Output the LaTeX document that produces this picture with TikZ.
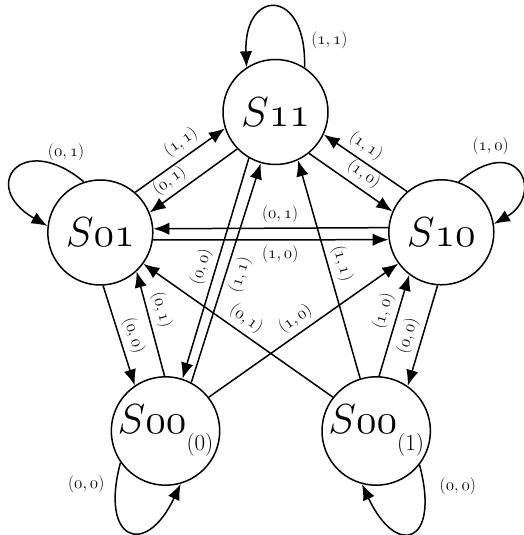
\RequirePackage{fix-cm}
\documentclass[tikz,border=0pt]{standalone}
\usetikzlibrary{arrows.meta}
\newcommand\lbtxt[2]{$(\mathnormal{#1},\mathnormal{#2})$}
\newcommand\stxt[1]{$S\mathnormal{#1}$}
\newcommand\sztxt[1]{$S\mathnormal{00}$\raisebox{-17pt}{\fontsize{23}{23}\selectfont(#1)}}
\begin{document}
\begin{tikzpicture}[x=1pt,y=1pt,
  state/.style={draw, circle, line width=1.5pt, minimum size=105pt, inner sep=0pt, font=\fontsize{42}{42}\selectfont},
  arr/.style={line width=1.5pt, -{Latex[length=16pt,width=12.5pt]}},
  lbl/.style={inner sep=5pt, sloped, font=\fontsize{17}{17}\selectfont},
  llbl/.style={inner sep=5pt, font=\fontsize{17}{17}\selectfont}]
\useasboundingbox (0,0) rectangle (523,535);
\node[state] (s11) at (275.5,423) {\stxt{11}};
\node[state] (s01) at (100.3,302.5) {\stxt{01}};
\node[state] (s10) at (441.3,302.7) {\stxt{10}};
\node[state] (s00a) at (165.5,104) {\sztxt{0}};
\node[state] (s00b) at (376.2,104) {\sztxt{1}};
% edges
\draw[arr] (s01.49) -- node[lbl, pos=0.6, above] (l1) {\lbtxt{1}{1}} (s11.198.6);
\draw[arr] (s11.224.4) -- node[lbl, pos=0.68, above] (l2) {\lbtxt{0}{1}} (s01.22);
\draw[arr] (s10.130.4) -- node[lbl, pos=0.59, above] (l3) {\lbtxt{1}{1}} (s11.335);
\draw[arr] (s11.309.6) -- node[lbl, pos=0.56, above] (l4) {\lbtxt{1}{0}} (s10.157.4);
\draw[arr] (s10.175.5) -- node[lbl, pos=0.46, above] (l5) {\lbtxt{0}{1}} (s01.4.5);
\draw[arr] (s01.-8) -- node[lbl, pos=0.54, below] (l6) {\lbtxt{1}{0}} (s10.188);
\draw[arr] (s01.273.3) -- node[lbl, pos=0.54, above] (l7) {\lbtxt{0}{0}} (s00a.124.3);
\draw[arr] (s00a.91.6) -- node[lbl, pos=0.6, above] (l8) {\lbtxt{0}{1}} (s01.-47);
\draw[arr] (s11.240.3) -- node[lbl, pos=0.51, above] (l9) {\lbtxt{0}{0}} (s00a.72);
\draw[arr] (s00a.62.8) -- node[lbl, pos=0.51, below] (l10) {\lbtxt{1}{1}} (s11.254.9);
\draw[arr] (s00b.107.6) -- node[lbl, pos=0.51, above] (l11) {\lbtxt{1}{1}} (s11.295.1);
\draw[arr] (s00b.87.7) -- node[lbl, pos=0.6, above] (l12) {\lbtxt{1}{0}} (s10.233);
\draw[arr] (s10.266.7) -- node[lbl, pos=0.54, above] (l13) {\lbtxt{0}{0}} (s00b.55.5);
\draw[arr] (s00b.142.7) -- node[lbl, pos=0.5, above] (l14) {\lbtxt{0}{1}} (s01.-36);
\draw[arr] (s00a.38) -- node[lbl, pos=0.5, above] (l15) {\lbtxt{1}{0}} (s10.216.3);
% loops
\draw[arr] (s11.57) .. controls +(88:80) and +(92:80) .. node[llbl, pos=0.13, right=3pt] (l16) {\lbtxt{1}{1}} (s11.123);
\draw[arr] (s01.108.5) .. controls +(140:80) and +(150:80) .. node[llbl, pos=0.1, above=3pt] (l17) {\lbtxt{0}{1}} (s01.173.8);
\draw[arr] (s10.71.4) .. controls +(40:80) and +(30:58) .. node[llbl, pos=0.2, above=3pt] (l18) {\lbtxt{1}{0}} (s10.9.5);
\draw[arr] (s00a.215) .. controls +(255:82) and +(245:82) .. node[llbl, pos=0.1, left=6pt] (l19) {\lbtxt{0}{0}} (s00a.286);
\draw[arr] (s00b.322.5) .. controls +(285:82) and +(295:82) .. node[llbl, pos=0.1, right=10pt] (l20) {\lbtxt{0}{0}} (s00b.255.4);
\end{tikzpicture}
\end{document}
